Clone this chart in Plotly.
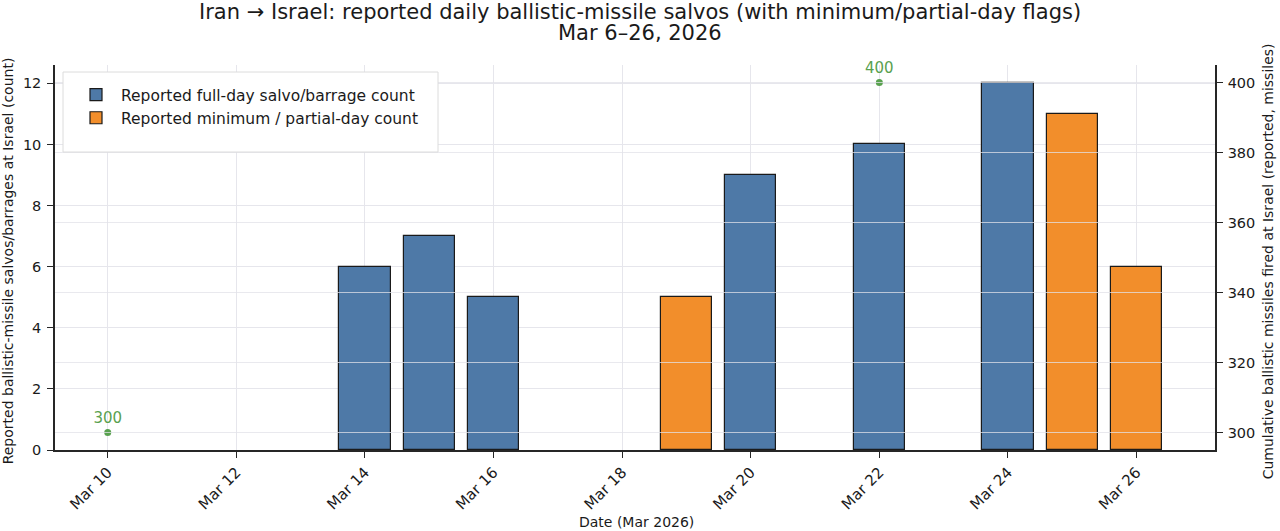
import plotly.graph_objects as go

# Data
full_dates = ["2026-03-14", "2026-03-15", "2026-03-16", "2026-03-20", "2026-03-22", "2026-03-24"]
full_counts = [6, 7, 5, 9, 10, 12]
partial_dates = ["2026-03-19", "2026-03-25", "2026-03-26"]
partial_counts = [5, 11, 6]
cum_dates = ["2026-03-10", "2026-03-22"]
cum_missiles = [300, 400]
tick_dates = ["2026-03-10", "2026-03-12", "2026-03-14", "2026-03-16", "2026-03-18",
              "2026-03-20", "2026-03-22", "2026-03-24", "2026-03-26"]
tick_labels = ["Mar 10", "Mar 12", "Mar 14", "Mar 16", "Mar 18", "Mar 20", "Mar 22", "Mar 24", "Mar 26"]
title_line1 = "Iran → Israel: reported daily ballistic-missile salvos (with minimum/partial-day flags)"
title_line2 = "Mar 6–26, 2026"
x_title = "Date (Mar 2026)"
y_title = "Reported ballistic-missile salvos/barrages at Israel (count)"
y2_title = "Cumulative ballistic missiles fired at Israel (reported, missiles)"

BLUE = "#4e79a7"
ORANGE = "#f28e2b"
GREEN = "#59a14f"
FONT = "DejaVu Sans"
TXT = "#1a1a1a"
SPINE = "#262626"
DAY_MS = 86400000
GRID = "#e6e6ec"

fig = go.Figure()
fig.add_trace(go.Bar(
    x=full_dates, y=full_counts, name="Reported full-day salvo/barrage count",
    marker=dict(color=BLUE, line=dict(color=TXT, width=1.2)),
    width=[0.8 * DAY_MS] * len(full_dates),
))
fig.add_trace(go.Bar(
    x=partial_dates, y=partial_counts, name="Reported minimum / partial-day count",
    marker=dict(color=ORANGE, line=dict(color=TXT, width=1.2)),
    width=[0.8 * DAY_MS] * len(partial_dates),
))
fig.add_trace(go.Scatter(
    x=cum_dates, y=cum_missiles, yaxis="y2", mode="markers+text",
    text=[str(v) for v in cum_missiles], textposition="top center",
    textfont=dict(color=GREEN, size=15, family=FONT),
    marker=dict(color=GREEN, size=7, line=dict(width=0)), showlegend=False,
    cliponaxis=False,
))

PLOT_H = 531 - 65 - 81
PLOT_W = 1280 - 55 - 65

# right-axis gridlines drawn above bars (as in reference)
for v in range(300, 401, 20):
    fig.add_shape(type="line", xref="paper", x0=0, x1=1, yref="y2", y0=v, y1=v,
                  line=dict(color="rgba(225,225,232,0.75)", width=1.2), layer="above")

# legend frame (drawn above the gridlines)
fig.add_shape(type="rect", xref="paper", yref="paper",
              x0=(63 - 55) / PLOT_W, x1=(438 - 55) / PLOT_W,
              y0=(450 - 152) / PLOT_H, y1=(450 - 72) / PLOT_H,
              fillcolor="white", line=dict(color="#dcdcdc", width=1), layer="above")

annos = [
    dict(text=title_line1, xref="paper", yref="paper", x=(640 - 55) / PLOT_W, y=(450 - 12) / PLOT_H,
         xanchor="center", yanchor="middle", showarrow=False, font=dict(size=21, family=FONT, color=TXT)),
    dict(text=title_line2, xref="paper", yref="paper", x=(640 - 55) / PLOT_W, y=(450 - 33) / PLOT_H,
         xanchor="center", yanchor="middle", showarrow=False, font=dict(size=21, family=FONT, color=TXT)),
    dict(text=x_title, xref="paper", yref="paper", x=(636 - 55) / PLOT_W, y=(450 - 522) / PLOT_H,
         xanchor="center", yanchor="middle", showarrow=False, font=dict(size=14, family=FONT, color=TXT)),
    dict(text=y_title, xref="paper", yref="paper", x=(8 - 55) / PLOT_W, y=0.49, textangle=-90,
         xanchor="center", yanchor="middle", showarrow=False, font=dict(size=14, family=FONT, color=TXT)),
    dict(text=y2_title, xref="paper", yref="paper", x=(1268 - 55) / PLOT_W, y=0.49, textangle=-90,
         xanchor="center", yanchor="middle", showarrow=False, font=dict(size=14, family=FONT, color=TXT)),
]

fig.update_layout(
    width=1280, height=531,
    margin=dict(l=55, r=65, t=65, b=81, autoexpand=False),
    paper_bgcolor="white", plot_bgcolor="white",
    font=dict(family=FONT, size=14, color=TXT),
    barmode="overlay",
    bargap=0,
    annotations=annos,
    xaxis=dict(
        type="date", automargin=False,
        range=["2026-03-09 04:19", "2026-03-27 05:17"],
        tickvals=tick_dates, ticktext=tick_labels, tickangle=-45,
        showgrid=True, gridcolor=GRID, gridwidth=1,
        showline=True, linecolor=SPINE, linewidth=1.5,
        ticks="outside", ticklen=6, tickcolor=SPINE,
        tickfont=dict(size=15),
        zeroline=False,
    ),
    yaxis=dict(
        automargin=False,
        range=[0, 12.6], dtick=2, tick0=0,
        showgrid=True, gridcolor=GRID, gridwidth=1,
        showline=True, linecolor=SPINE, linewidth=1.5,
        ticks="outside", ticklen=6, tickcolor=SPINE,
        tickfont=dict(size=14.5), ticklabelstandoff=3,
        zeroline=False,
    ),
    yaxis2=dict(
        overlaying="y", side="right", automargin=False,
        range=[295, 405], dtick=20, tick0=300,
        showgrid=False,
        showline=True, linecolor=SPINE, linewidth=1.5,
        ticks="outside", ticklen=6, tickcolor=SPINE,
        tickfont=dict(size=14.5), ticklabelstandoff=2,
        zeroline=False,
    ),
    legend=dict(
        x=(71 - 55) / PLOT_W, y=(450 - 78) / PLOT_H, xanchor="left", yanchor="top",
        bgcolor="rgba(255,255,255,0)", borderwidth=0,
        font=dict(size=15.5, family=FONT), itemwidth=40,
    ),
)

fig.write_html("out.html", config={"displayModeBar": False},
               post_script="document.body.style.margin='0';document.body.style.padding='0';")
